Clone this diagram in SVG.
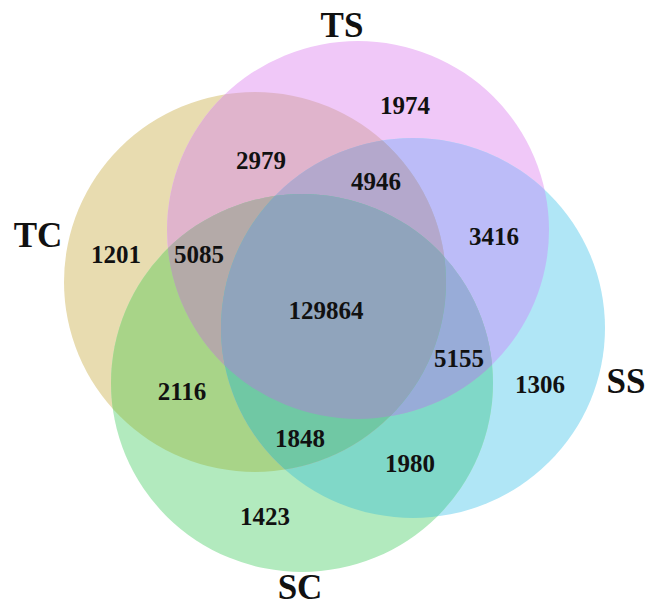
<svg xmlns="http://www.w3.org/2000/svg" width="648" height="608" viewBox="0 0 648 608">
<style>
.num{font-family:"Liberation Serif","Times New Roman",serif;font-weight:bold;font-size:25px;text-anchor:middle;fill:#111}
.lbl{font-family:"Liberation Serif","Times New Roman",serif;font-weight:bold;font-size:35px;text-anchor:middle;fill:#111}
</style>
<defs>
<ellipse id="eTC" cx="255" cy="282" rx="191" ry="190"/>
<ellipse id="eTS" cx="358" cy="230" rx="191" ry="189"/>
<ellipse id="eSS" cx="413" cy="328" rx="192" ry="190"/>
<ellipse id="eSC" cx="302" cy="383" rx="191" ry="189"/>
<clipPath id="cTC"><use href="#eTC"/></clipPath>
<clipPath id="cTS"><use href="#eTS"/></clipPath>
<clipPath id="cSS"><use href="#eSS"/></clipPath>
<clipPath id="cSC"><use href="#eSC"/></clipPath>
</defs>
<rect width="648" height="608" fill="#ffffff"/>
<g id="TC"><use href="#eTC" fill="#e8dcb0"/><text class="lbl" x="38" y="247">TC</text></g>
<g id="TS"><use href="#eTS" fill="#f0c8f8"/><text class="lbl" x="342" y="37">TS</text></g>
<g id="SS"><use href="#eSS" fill="#b0e6f6"/><text class="lbl" x="626" y="393">SS</text></g>
<g id="SC"><use href="#eSC" fill="#b2eabe"/><text class="lbl" x="300" y="599">SC</text></g>
<g id="overlaps">
<g clip-path="url(#cTC)"><use href="#eTS" fill="#e0b4cc"/></g>
<g clip-path="url(#cTS)"><use href="#eSS" fill="#bcbcf8"/></g>
<g clip-path="url(#cSS)"><use href="#eSC" fill="#80d8c8"/></g>
<g clip-path="url(#cTC)"><use href="#eSC" fill="#a8d488"/></g>
<g clip-path="url(#cTC)"><use href="#eSS" fill="#b0b8d0"/></g>
<g clip-path="url(#cTS)"><use href="#eSC" fill="#a8b8c0"/></g>
<g clip-path="url(#cTC)"><g clip-path="url(#cTS)"><use href="#eSS" fill="#b4a8cc"/></g></g>
<g clip-path="url(#cTC)"><g clip-path="url(#cTS)"><use href="#eSC" fill="#b4aaa8"/></g></g>
<g clip-path="url(#cTS)"><g clip-path="url(#cSS)"><use href="#eSC" fill="#98acd8"/></g></g>
<g clip-path="url(#cTC)"><g clip-path="url(#cSS)"><use href="#eSC" fill="#70c8a4"/></g></g>
<g clip-path="url(#cTC)"><g clip-path="url(#cTS)"><g clip-path="url(#cSS)"><use href="#eSC" fill="#90a4bc"/></g></g></g>
</g>
<g id="counts">
<text class="num" x="116" y="263">1201</text>
<text class="num" x="199" y="263">5085</text>
<text class="num" x="261" y="169">2979</text>
<text class="num" x="405" y="114">1974</text>
<text class="num" x="376" y="190">4946</text>
<text class="num" x="494" y="245">3416</text>
<text class="num" x="326" y="319">129864</text>
<text class="num" x="459" y="367">5155</text>
<text class="num" x="540" y="393">1306</text>
<text class="num" x="410" y="472">1980</text>
<text class="num" x="182" y="400">2116</text>
<text class="num" x="300" y="447">1848</text>
<text class="num" x="265" y="525">1423</text>
</g>
</svg>
